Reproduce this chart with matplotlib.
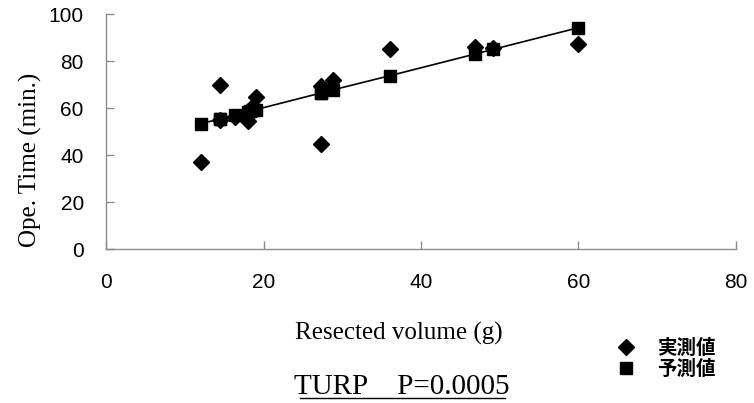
import numpy as np
import matplotlib
matplotlib.use("Agg")
import matplotlib.pyplot as plt
from matplotlib.lines import Line2D

# Resected volume (g) for each case
volume = [12.0, 14.5, 14.5, 16.4, 18.0, 18.3, 18.7, 19.0,
          27.3, 27.3, 28.8, 36.1, 46.9, 49.2, 59.9]
# measured operation time (min.)
actual = [37.0, 69.6, 54.8, 56.1, 54.5, 58.5, 61.0, 64.7,
          69.3, 44.8, 71.8, 85.0, 86.0, 85.7, 87.4]
# predicted operation time (min.)
predicted = [53.3, 55.4, 55.4, 57.1, 58.4, 58.7, 59.0, 59.3,
             66.4, 66.4, 67.7, 73.8, 83.0, 85.0, 94.1]

x_ticks = [0, 20, 40, 60, 80]
y_ticks = [0, 20, 40, 60, 80, 100]
legend_labels = ["実測値", "予測値"]

sans = ["Liberation Sans", "DejaVu Sans"]
serif = ["Liberation Serif", "DejaVu Serif"]
cjk = ["Noto Sans CJK JP", "DejaVu Sans"]

fig = plt.figure(figsize=(7.54, 4.03), dpi=100)
ax = fig.add_axes([0.1406, 0.3821, 0.8355, 0.5831])

# regression line through the predicted values
order = np.argsort(volume)
ax.plot(np.array(volume)[order], np.array(predicted)[order],
        color="black", lw=1.2, zorder=2)
d = ax.plot(volume, actual, "D", color="black", ms=8.5, ls="none", zorder=3)[0]
s = ax.plot(volume, predicted, "s", color="black", ms=9, ls="none", zorder=3)[0]

ax.set_xlim(0, 80)
ax.set_ylim(0, 100)
ax.set_xticks(x_ticks)
ax.set_yticks(y_ticks)
ax.spines["top"].set_visible(False)
ax.spines["right"].set_visible(False)
for sp in ("left", "bottom"):
    ax.spines[sp].set_color("#8c8c8c")
    ax.spines[sp].set_linewidth(1.0)
ax.tick_params(axis="both", direction="in", length=6, width=1.0,
               color="#8c8c8c", labelsize=15)
ax.tick_params(axis="y", pad=16)
ax.tick_params(axis="x", pad=17)
for lab in ax.get_xticklabels() + ax.get_yticklabels():
    lab.set_family(sans)

fig.text(0.041, 0.603, "Ope. Time (min.)", rotation=90, ha="center",
         va="center", family=serif, fontsize=18)
fig.text(0.529, 0.173, "Resected volume (g)", ha="center", va="center",
         family=serif, fontsize=18)
fig.text(0.533, 0.040, "TURP\u3000P=0.0005", ha="center", va="center",
         family=serif + ["Noto Sans CJK JP"], fontsize=21)
fig.add_artist(Line2D([300 / 754, 505 / 754], [1 - 398 / 403, 1 - 398 / 403],
                      color="black", lw=1.0))

leg = ax.legend([d, s], legend_labels, loc="center left",
                bbox_to_anchor=(0.804, 0.110), bbox_transform=fig.transFigure,
                frameon=False, handlelength=1.0, handletextpad=1.1,
                labelspacing=0.12, borderpad=0,
                prop={"family": cjk, "weight": "bold", "size": 14})

fig.savefig("out.png", dpi=100)
